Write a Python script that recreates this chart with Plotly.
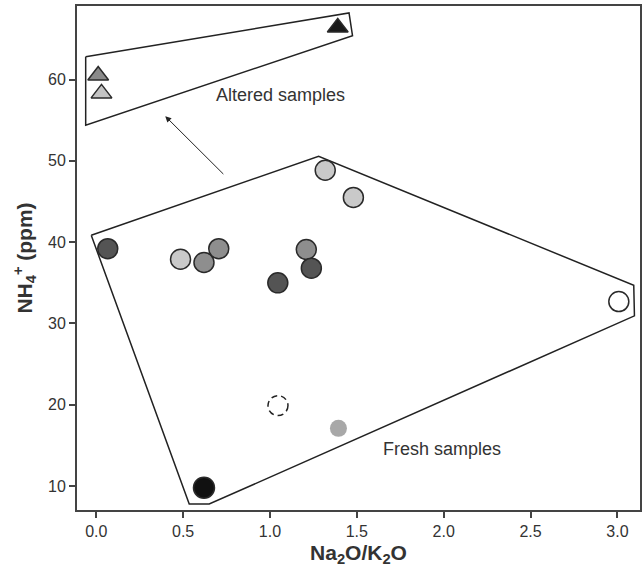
import plotly.graph_objects as go

# ---- data ----
# fresh samples (circles), grouped by fill colour
light_x = [0.485, 1.318, 1.48]
light_y = [37.9, 48.85, 45.5]
mid_x = [0.62, 0.705, 1.209]
mid_y = [37.5, 39.2, 39.1]
dark_x = [0.066, 1.045, 1.238]
dark_y = [39.2, 35.0, 36.8]
black_x = [0.62]
black_y = [9.8]
white_x = [3.008]
white_y = [32.7]
small_x = [1.394]
small_y = [17.1]
dashed_x = [1.046]
dashed_y = [19.9]

# altered samples (triangles)
tri_dark_x = [0.011]
tri_dark_y = [60.5]
tri_light_x = [0.03]
tri_light_y = [58.3]
tri_black_x = [1.39]
tri_black_y = [66.4]

# field outlines
altered_poly_x = [-0.061, 1.455, 1.475, -0.061, -0.061]
altered_poly_y = [62.8, 68.2, 65.4, 54.4, 62.8]
fresh_poly_x = [-0.029, 1.28, 3.094, 3.098, 0.65, 0.535, -0.029]
fresh_poly_y = [40.86, 50.57, 34.7, 30.94, 7.79, 7.79, 40.86]

# arrow (tail -> head)
arrow_tail = (0.74, 48.2)
arrow_head = (0.397, 55.5)

x_ticks = [0.0, 0.5, 1.0, 1.5, 2.0, 2.5, 3.0]
y_ticks = [10, 20, 30, 40, 50, 60]

fig = go.Figure()

line_col = "#222222"
fig.add_trace(go.Scatter(x=altered_poly_x, y=altered_poly_y, mode="lines",
                         line=dict(color=line_col, width=1.5), hoverinfo="skip"))
fig.add_trace(go.Scatter(x=fresh_poly_x, y=fresh_poly_y, mode="lines",
                         line=dict(color=line_col, width=1.5), hoverinfo="skip"))

outline = dict(color="#2a2a2a", width=1.5)

def circles(x, y, color, size=20, line=outline):
    fig.add_trace(go.Scatter(x=x, y=y, mode="markers",
                             marker=dict(symbol="circle", size=size, color=color, line=line)))

circles(light_x, light_y, "#c9c9c9")
circles(mid_x, mid_y, "#8e8e8e")
circles(dark_x, dark_y, "#545454")
circles(black_x, black_y, "#111111", size=21)
circles(white_x, white_y, "#ffffff")
circles(small_x, small_y, "#a8a8a8", size=17, line=dict(width=0))

def tris(x, y, color):
    fig.add_trace(go.Scatter(x=x, y=y, mode="markers",
                             marker=dict(symbol="triangle-up", size=18, color=color, line=outline)))

tris(tri_dark_x, tri_dark_y, "#8a8a8a")
tris(tri_light_x, tri_light_y, "#c4c4c4")
tris(tri_black_x, tri_black_y, "#1a1a1a")

# dashed circle (pixel-sized, anchored at the data point)
for dx, dy in zip(dashed_x, dashed_y):
    fig.add_shape(type="circle", xref="x", yref="y", xsizemode="pixel", ysizemode="pixel",
                  xanchor=dx, yanchor=dy, x0=-10, x1=10, y0=-10, y1=10,
                  line=dict(color="#222222", width=1.5, dash="6px,4px"))

fig.add_annotation(x=arrow_head[0], y=arrow_head[1], ax=arrow_tail[0], ay=arrow_tail[1],
                   xref="x", yref="y", axref="x", ayref="y", text="", showarrow=True,
                   arrowhead=2, arrowsize=1.2, arrowwidth=1, arrowcolor="#222222")

fig.add_annotation(x=1.06, y=58.1, xref="x", yref="y", text="Altered samples", showarrow=False,
                   font=dict(size=18, color="#333333", family="Liberation Sans, Arial"))
fig.add_annotation(x=1.99, y=14.6, xref="x", yref="y", text="Fresh samples", showarrow=False,
                   font=dict(size=18, color="#333333", family="Liberation Sans, Arial"))

axis_common = dict(showgrid=False, zeroline=False, showline=True, mirror=True,
                   linecolor="#444444", linewidth=2, ticks="outside", ticklen=6,
                   tickwidth=1.5, tickcolor="#444444",
                   tickfont=dict(size=16, color="#333333", family="Liberation Sans, Arial"))

fig.update_layout(
    width=644, height=574,
    margin=dict(l=77, r=2, t=6, b=64),
    plot_bgcolor="white", paper_bgcolor="white",
    showlegend=False,
    font=dict(family="Liberation Sans, Arial", color="#333333"),
    xaxis=dict(range=[-0.111, 3.13], tickvals=x_ticks,
               ticktext=[f"{v:.1f}" for v in x_ticks],
               title=dict(text="<b>Na<sub>2</sub>O/K<sub>2</sub>O</b>",
                          font=dict(size=21, color="#333333"), standoff=6),
               **axis_common),
    yaxis=dict(range=[7.06, 69.05], tickvals=y_ticks,
               title=dict(text="<b>NH<sub>4</sub><sup>+</sup> (ppm)</b>",
                          font=dict(size=21, color="#333333"), standoff=10),
               **axis_common),
)

fig.write_html("out.html")
